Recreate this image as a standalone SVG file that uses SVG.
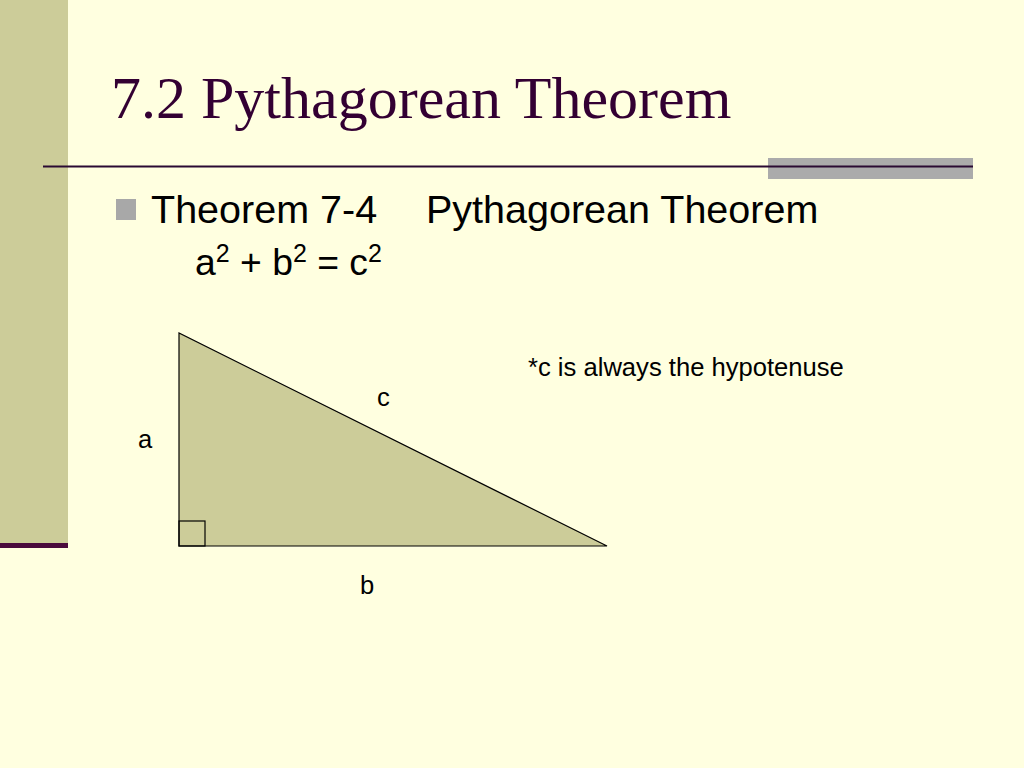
<svg xmlns="http://www.w3.org/2000/svg" width="1024" height="768" viewBox="0 0 1024 768">
<style>
.sans{font-family:"Liberation Sans",Arial,sans-serif;fill:#000}
.lbl{font-size:25.6px}
</style>
<rect x="0" y="0" width="1024" height="768" fill="#FFFFE0"/>
<g id="decor">
<rect x="0" y="0" width="68" height="544" fill="#CCCC99"/>
<rect x="0" y="543" width="68" height="5" fill="#4A0A3C"/>
<rect x="768" y="158" width="205" height="21" fill="#ABABAB"/>
<line x1="43" y1="166.5" x2="973" y2="166.5" stroke="#2A0A33" stroke-width="2.2"/>
</g>
<g id="title">
<text x="111" y="118" font-family="'Liberation Serif','Times New Roman',serif" font-size="60" fill="#330033">7.2 Pythagorean Theorem</text>
</g>
<g id="bullet">
<rect x="116" y="199" width="20" height="21" fill="#A8A8A8"/>
<text class="sans" x="151" y="223" font-size="39.5">Theorem 7-4</text>
<text class="sans" x="426" y="223" font-size="39.5">Pythagorean Theorem</text>
<text class="sans" x="195" y="275" font-size="37.3">a<tspan font-size="25" dy="-13">2</tspan><tspan dy="13"> + b</tspan><tspan font-size="25" dy="-13">2</tspan><tspan dy="13"> = c</tspan><tspan font-size="25" dy="-13">2</tspan></text>
</g>
<g id="triangle">
<polygon points="179,333 179,546 607,546" fill="#CCCC99" stroke="#000" stroke-width="1.2"/>
<rect x="179" y="521" width="26" height="25" fill="none" stroke="#000" stroke-width="1.2"/>
</g>
<g id="labels">
<text class="sans lbl" x="377" y="406">c</text>
<text class="sans lbl" x="138" y="448">a</text>
<text class="sans lbl" x="360" y="594">b</text>
<text class="sans lbl" x="528" y="376">*c is always the hypotenuse</text>
</g>
</svg>
